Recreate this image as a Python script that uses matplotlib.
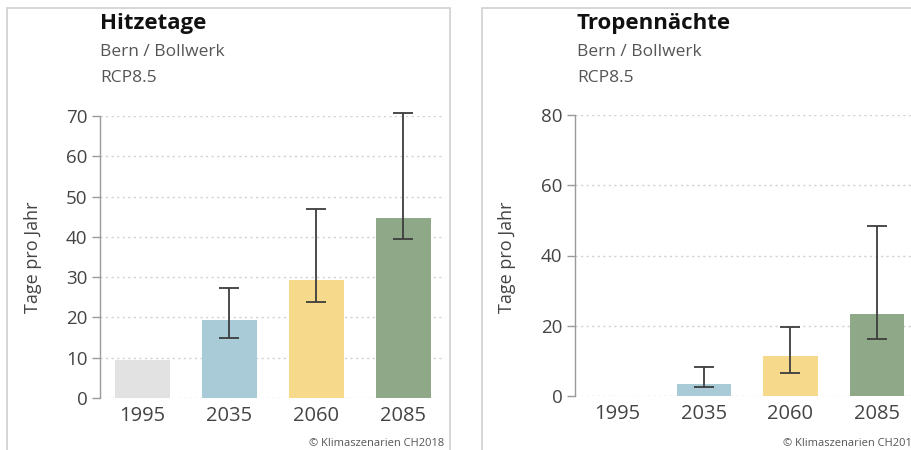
import matplotlib
matplotlib.use("Agg")
import matplotlib.pyplot as plt
from matplotlib.patches import Rectangle

plt.rcParams['font.family'] = ['Open Sans', 'DejaVu Sans']

years = ["1995", "2035", "2060", "2085"]
colors = ["#e2e2e2", "#a9cbd8", "#f7d98b", "#8ea888"]

hitze_vals = [9.4, 19.4, 29.2, 44.6]
hitze_low = [None, 14.8, 23.8, 39.4]
hitze_high = [None, 27.3, 46.8, 70.8]

tropen_vals = [0.0, 3.4, 11.5, 23.3]
tropen_low = [None, 2.5, 6.6, 16.3]
tropen_high = [None, 8.3, 19.6, 48.4]

W, H = 912, 450
fig = plt.figure(figsize=(W / 100, H / 100), dpi=100)
fig.patch.set_facecolor("white")

def px(x0, y0, x1, y1):
    return [x0 / W, 1 - y1 / H, (x1 - x0) / W, (y1 - y0) / H]

frame_col = "#cfcfcf"
fig.add_artist(Rectangle((7 / W, -0.05), (450 - 7) / W, 1 - 8 / H + 0.05,
                         transform=fig.transFigure, fill=False, ec=frame_col, lw=1.2))
fig.add_artist(Rectangle((482 / W, -0.05), (915 - 482) / W, 1 - 8 / H + 0.05,
                         transform=fig.transFigure, fill=False, ec=frame_col, lw=1.2))

def panel(rect, vals, low, high, ymax, yticks, title, tx, ylab_x, copy_x):
    ax = fig.add_axes(rect)
    x = list(range(len(years)))
    ax.bar(x, vals, width=0.63, color=colors, zorder=2)
    for i in x:
        if low[i] is not None:
            ax.errorbar(i, vals[i], yerr=[[vals[i] - low[i]], [high[i] - vals[i]]],
                        fmt='none', ecolor="#3d3d3d", elinewidth=1.3, capsize=7.5,
                        capthick=1.3, zorder=3, clip_on=False)
    ax.set_xlim(-0.49, 3.48)
    ax.set_ylim(0, ymax)
    ax.set_yticks(yticks)
    ax.set_xticks(x)
    ax.set_xticklabels(years)
    for s in ["top", "right", "bottom"]:
        ax.spines[s].set_visible(False)
    ax.spines["left"].set_color("#9a9a9a")
    ax.spines["left"].set_linewidth(1.0)
    ax.tick_params(axis="y", colors="#9a9a9a", labelcolor="#444444", length=6,
                   width=1.0, labelsize=13.5, pad=3)
    ax.tick_params(axis="x", length=0, labelcolor="#444444", labelsize=14.5, pad=6)
    ax.grid(axis="y", color="#d0d0d0", linestyle=(0, (1.5, 2.5)), linewidth=1.0, zorder=0)
    ax.set_axisbelow(True)
    ax.patch.set_alpha(0)
    fig.text(tx / W, 1 - 23 / H, title, fontsize=16, fontweight="bold",
             color="#111111", va="center", ha="left")
    fig.text(tx / W, 1 - 52 / H, "Bern / Bollwerk", fontsize=12.5, color="#555555",
             va="center", ha="left")
    fig.text(tx / W, 1 - 78 / H, "RCP8.5", fontsize=12.5, color="#555555",
             va="center", ha="left")
    fig.text(ylab_x / W, 1 - 257 / H, "Tage pro Jahr", fontsize=13, color="#444444",
             rotation=90, va="center", ha="center")
    fig.text(copy_x / W, 1 - 444 / H, "© Klimaszenarien CH2018", fontsize=8,
             color="#555555", va="center", ha="right")
    return ax

panel(px(100, 116, 445, 398), hitze_vals, hitze_low, hitze_high, 70,
      [0, 10, 20, 30, 40, 50, 60, 70], "Hitzetage", 100, 33, 444)
panel(px(575, 115, 918.5, 396), tropen_vals, tropen_low, tropen_high, 80,
      [0, 20, 40, 60, 80], "Tropennächte", 577, 507, 918)

fig.savefig("out.png", dpi=100, facecolor="white")
